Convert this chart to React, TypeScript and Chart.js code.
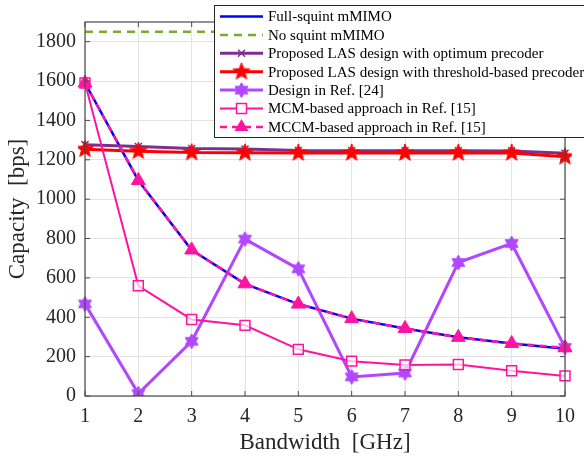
import { useEffect, useRef } from 'react';
import { Chart, registerables } from 'chart.js';
Chart.register(...registerables);

const bandwidthLabels = ['1', '2', '3', '4', '5', '6', '7', '8', '9', '10'];
const fullSquint = [1590, 1095, 742, 570, 467, 393, 343, 298, 267, 240];
const noSquint = [1850, 1850, 1850, 1850, 1850, 1850, 1850, 1850, 1850, 1850];
const lasOptimum = [1277, 1267, 1257, 1255, 1247, 1246, 1246, 1246, 1245, 1233];
const lasThreshold = [1254, 1244, 1237, 1236, 1235, 1235, 1235, 1235, 1235, 1216];
const ref24 = [468, 12, 278, 797, 646, 97, 117, 678, 775, 247];
const mcm = [1590, 560, 389, 359, 237, 177, 158, 160, 128, 102];
const mccm = [1590, 1095, 742, 570, 467, 393, 343, 298, 267, 245];
const yTickMax = 1900;

const BLUE = '#0000ff';
const GREEN = '#77ac30';
const PURPLE = '#7e2f8e';
const RED = '#ff0000';
const VIOLET = '#b148ff';
const PINK = '#ff14a0';

function makeStar(points: number, outer: number, inner: number, fill: string) {
  const size = Math.ceil(outer * 2 + 4);
  const c = document.createElement('canvas');
  c.width = size;
  c.height = size;
  const ctx = c.getContext('2d')!;
  const cx = size / 2;
  const cy = size / 2;
  ctx.beginPath();
  for (let i = 0; i < points * 2; i++) {
    const r = i % 2 === 0 ? outer : inner;
    const a = -Math.PI / 2 + (i * Math.PI) / points;
    const x = cx + r * Math.cos(a);
    const y = cy + r * Math.sin(a);
    if (i === 0) ctx.moveTo(x, y);
    else ctx.lineTo(x, y);
  }
  ctx.closePath();
  ctx.fillStyle = fill;
  ctx.fill();
  ctx.lineWidth = 1;
  ctx.strokeStyle = fill;
  ctx.stroke();
  return c;
}

export default function App() {
  const ref = useRef<HTMLCanvasElement>(null);
  useEffect(() => {
    document.body.style.margin = '0';
    const redStar = makeStar(5, 9, 3.8, RED);
    const hexStar = makeStar(6, 7.5, 4.3, VIOLET);
    const serif = 'Liberation Serif';

    const legendItems = [
      { label: 'Full-squint mMIMO', color: BLUE, dash: [] as number[], width: 2.5, marker: 'none' },
      { label: 'No squint mMIMO', color: GREEN, dash: [8, 6], width: 2.5, marker: 'none' },
      { label: 'Proposed LAS design with optimum precoder', color: PURPLE, dash: [], width: 3, marker: 'cross' },
      { label: 'Proposed LAS design with threshold-based precoder', color: RED, dash: [], width: 3, marker: 'redstar' },
      { label: 'Design in Ref. [24]', color: VIOLET, dash: [], width: 3, marker: 'hex' },
      { label: 'MCM-based approach in Ref. [15]', color: PINK, dash: [], width: 2, marker: 'square' },
      { label: 'MCCM-based approach in Ref. [15]', color: PINK, dash: [7, 5], width: 2.5, marker: 'triangle' },
    ];

    const framePlugin = {
      id: 'frame',
      afterDatasetsDraw(chart: any) {
        const { ctx, chartArea: a, scales } = chart;
        ctx.save();
        ctx.strokeStyle = '#4a4a4a';
        ctx.lineWidth = 1.2;
        ctx.strokeRect(a.left, a.top, a.right - a.left, a.bottom - a.top);
        ctx.lineWidth = 1;
        const tl = 5;
        scales.x.ticks.forEach((_t: any, i: number) => {
          const x = scales.x.getPixelForTick(i);
          ctx.beginPath();
          ctx.moveTo(x, a.bottom);
          ctx.lineTo(x, a.bottom - tl);
          ctx.moveTo(x, a.top);
          ctx.lineTo(x, a.top + tl);
          ctx.stroke();
        });
        scales.y.ticks.forEach((t: any) => {
          const y = scales.y.getPixelForValue(t.value);
          ctx.beginPath();
          ctx.moveTo(a.left, y);
          ctx.lineTo(a.left + tl, y);
          ctx.moveTo(a.right, y);
          ctx.lineTo(a.right - tl, y);
          ctx.stroke();
        });
        ctx.restore();
      },
      afterDraw(chart: any) {
        const ctx = chart.ctx;
        ctx.save();
        const bx = 214, by = 5, bw = 380, bh = 132;
        ctx.fillStyle = '#ffffff';
        ctx.fillRect(bx, by, bw, bh);
        ctx.strokeStyle = '#262626';
        ctx.lineWidth = 1;
        ctx.strokeRect(bx + 0.5, by + 0.5, bw, bh);
        ctx.font = `15px "${serif}"`;
        ctx.textBaseline = 'middle';
        legendItems.forEach((it, i) => {
          const y = 16.5 + i * 18.4;
          const x0 = 220, x1 = 263, xm = (x0 + x1) / 2;
          ctx.strokeStyle = it.color;
          ctx.lineWidth = it.width;
          ctx.setLineDash(it.dash);
          ctx.beginPath();
          ctx.moveTo(x0, y);
          ctx.lineTo(x1, y);
          ctx.stroke();
          ctx.setLineDash([]);
          if (it.marker === 'cross') {
            ctx.lineWidth = 1.5;
            ctx.beginPath();
            ctx.moveTo(xm - 3.5, y - 3.5); ctx.lineTo(xm + 3.5, y + 3.5);
            ctx.moveTo(xm + 3.5, y - 3.5); ctx.lineTo(xm - 3.5, y + 3.5);
            ctx.stroke();
          } else if (it.marker === 'redstar') {
            ctx.drawImage(redStar, xm - redStar.width / 2, y - redStar.height / 2);
          } else if (it.marker === 'hex') {
            ctx.drawImage(hexStar, xm - hexStar.width / 2, y - hexStar.height / 2);
          } else if (it.marker === 'square') {
            ctx.lineWidth = 1.5;
            ctx.fillStyle = '#ffffff';
            ctx.fillRect(xm - 5, y - 5, 10, 10);
            ctx.strokeRect(xm - 5, y - 5, 10, 10);
          } else if (it.marker === 'triangle') {
            ctx.fillStyle = it.color;
            ctx.beginPath();
            ctx.moveTo(xm, y - 8);
            ctx.lineTo(xm + 7, y + 4);
            ctx.lineTo(xm - 7, y + 4);
            ctx.closePath();
            ctx.fill();
          }
          ctx.fillStyle = '#000000';
          ctx.fillText(it.label, 268, y + 1);
        });
        ctx.restore();
      },
    };

    const chart = new Chart(ref.current!, {
      type: 'line',
      data: {
        labels: bandwidthLabels,
        datasets: [
          { label: 'Full-squint mMIMO', data: fullSquint, borderColor: BLUE, borderWidth: 2.5, pointRadius: 0, order: 7 },
          { label: 'No squint mMIMO', data: noSquint, borderColor: GREEN, borderWidth: 2.5, borderDash: [8, 6], pointRadius: 0, order: 6 },
          { label: 'Proposed LAS design with optimum precoder', data: lasOptimum, borderColor: PURPLE, borderWidth: 3, pointStyle: 'crossRot', pointRadius: 5, pointBorderWidth: 1.5, pointBorderColor: PURPLE, order: 5 },
          { label: 'Proposed LAS design with threshold-based precoder', data: lasThreshold, borderColor: RED, borderWidth: 3, pointStyle: redStar as any, order: 4 },
          { label: 'Design in Ref. [24]', data: ref24, borderColor: VIOLET, borderWidth: 3, pointStyle: hexStar as any, order: 3 },
          { label: 'MCM-based approach in Ref. [15]', data: mcm, borderColor: PINK, borderWidth: 2, pointStyle: 'rect', pointRadius: 7, pointBorderWidth: 1.5, pointBorderColor: PINK, pointBackgroundColor: 'rgba(255,255,255,0.7)', order: 2 },
          { label: 'MCCM-based approach in Ref. [15]', data: mccm, borderColor: PINK, borderWidth: 2.5, borderDash: [7, 5], pointStyle: 'triangle', pointRadius: 8, pointBorderWidth: 1, pointBorderColor: PINK, pointBackgroundColor: PINK, order: 1 },
        ],
      },
      options: {
        responsive: false,
        animation: false,
        layout: { padding: { top: 22, right: 14, left: 0, bottom: 0 } },
        elements: { line: { tension: 0 } },
        plugins: { legend: { display: false }, tooltip: { enabled: false } },
        scales: {
          x: {
            type: 'category',
            offset: false,
            grid: { color: '#e3e3e3', drawTicks: false },
            border: { display: false },
            ticks: { color: '#262626', font: { family: serif, size: 20 }, padding: 9, maxRotation: 0 },
            title: { display: true, text: 'Bandwidth  [GHz]', color: '#262626', font: { family: serif, size: 23 }, padding: { top: 0, bottom: 0 } },
            afterFit: (s: any) => { s.height = 61; },
          },
          y: {
            min: 0,
            max: yTickMax,
            grid: { color: '#e3e3e3', drawTicks: false },
            border: { display: false },
            ticks: { stepSize: 200, includeBounds: false, color: '#262626', font: { family: serif, size: 20 }, padding: 9, callback: (v: any) => String(v) },
            title: { display: true, text: 'Capacity  [bps]', color: '#262626', font: { family: serif, size: 23 }, padding: { top: 4, bottom: 0 } },
            afterFit: (s: any) => { s.width = 85; },
          },
        },
      },
      plugins: [framePlugin],
    } as any);
    return () => chart.destroy();
  }, []);
  return (
    <div style={{ position: 'absolute', left: 0, top: 0, width: 584, height: 457 }}>
      <canvas ref={ref} width={584} height={457} style={{ display: 'block', width: 584, height: 457 }} />
    </div>
  );
}
